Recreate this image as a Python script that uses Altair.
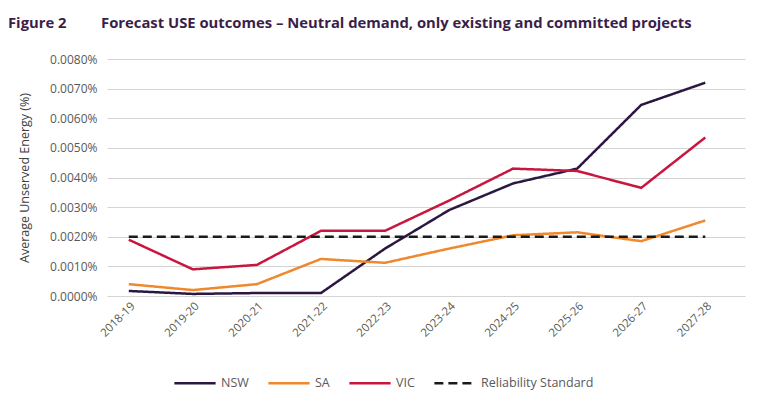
import altair as alt
import pandas as pd

years = ["2018-19", "2019-20", "2020-21", "2021-22", "2022-23",
         "2023-24", "2024-25", "2025-26", "2026-27", "2027-28"]
nsw = [0.00017, 0.00007, 0.00010, 0.00010, 0.00160, 0.00290, 0.00380, 0.00430, 0.00645, 0.00720]
sa = [0.00040, 0.00020, 0.00040, 0.00125, 0.00112, 0.00160, 0.00205, 0.00215, 0.00185, 0.00255]
vic = [0.00190, 0.00090, 0.00105, 0.00220, 0.00220, 0.00322, 0.00430, 0.00422, 0.00365, 0.00535]
standard = [0.0020] * 10

series_names = ["NSW", "SA", "VIC", "Reliability Standard"]
series_colors = ["#2b1741", "#f0882e", "#c8163f", "#1a1a1a"]
series_dash = [[1, 0], [1, 0], [1, 0], [9, 5]]
series_width = [2.5, 2.5, 2.5, 4]

rows = []
for name, vals in zip(series_names, [nsw, sa, vic, standard]):
    for i, (y, v) in enumerate(zip(years, vals)):
        rows.append({"series": name, "idx": i, "year": y, "value": v})
df = pd.DataFrame(rows)

label_expr = "[" + ",".join(f"'{y}'" for y in years) + "][datum.value]"

legend = alt.Legend(
    title=None, orient="none", direction="horizontal", legendX=66, legendY=302,
    symbolType="stroke", symbolSize=1700, labelFontSize=12.5, labelColor="#595959",
    labelFont="Open Sans", columnPadding=14, labelOffset=4,
)

chart = alt.Chart(df).mark_line(strokeCap="butt", strokeJoin="miter").encode(
    x=alt.X("idx:Q", scale=alt.Scale(domain=[-0.34, 9.62], nice=False, zero=False),
            axis=alt.Axis(values=list(range(10)), labelExpr=label_expr, labelAngle=-45,
                          grid=False, ticks=False, domain=False, title=None,
                          labelFontSize=11.5, labelColor="#595959", labelFont="Open Sans",
                          labelPadding=4)),
    y=alt.Y("value:Q", scale=alt.Scale(domain=[0, 0.008], nice=False),
            axis=alt.Axis(values=[i / 1000 for i in range(9)],
                          labelExpr="format(datum.value, '.4f') + '%'",
                          ticks=False, domain=False, gridColor="#d4d4d4", gridWidth=1,
                          labelFontSize=12, labelColor="#595959", labelFont="Open Sans",
                          labelPadding=10, title="Average Unserved Energy (%)",
                          titleFont="Open Sans", titleFontSize=12.5, titleFontWeight="normal",
                          titleColor="#404040", titlePadding=18)),
    color=alt.Color("series:N", scale=alt.Scale(domain=series_names, range=series_colors), legend=legend),
    strokeDash=alt.StrokeDash("series:N", scale=alt.Scale(domain=series_names, range=series_dash), legend=legend),
    strokeWidth=alt.StrokeWidth("series:N", scale=alt.Scale(domain=series_names, range=series_width), legend=legend),
    detail="series:N",
    order="idx:Q",
).properties(
    width=638, height=237,
    title=alt.TitleParams(
        text="Figure 2\u00a0\u00a0\u00a0\u00a0\u00a0\u00a0\u00a0\u00a0\u00a0Forecast USE outcomes \u2013 Neutral demand, only existing and committed projects",
        anchor="start", frame="group", dx=-99, offset=22, font="Open Sans", fontSize=14.8,
        fontWeight="bold", color="#3a1e4a"),
    autosize=alt.AutoSizeParams(type="none"),
    padding={"left": 99, "top": 51, "right": 15, "bottom": 106},
).configure_view(stroke=None)

chart.save("out.html", embed_options={"renderer": "svg", "actions": False})
